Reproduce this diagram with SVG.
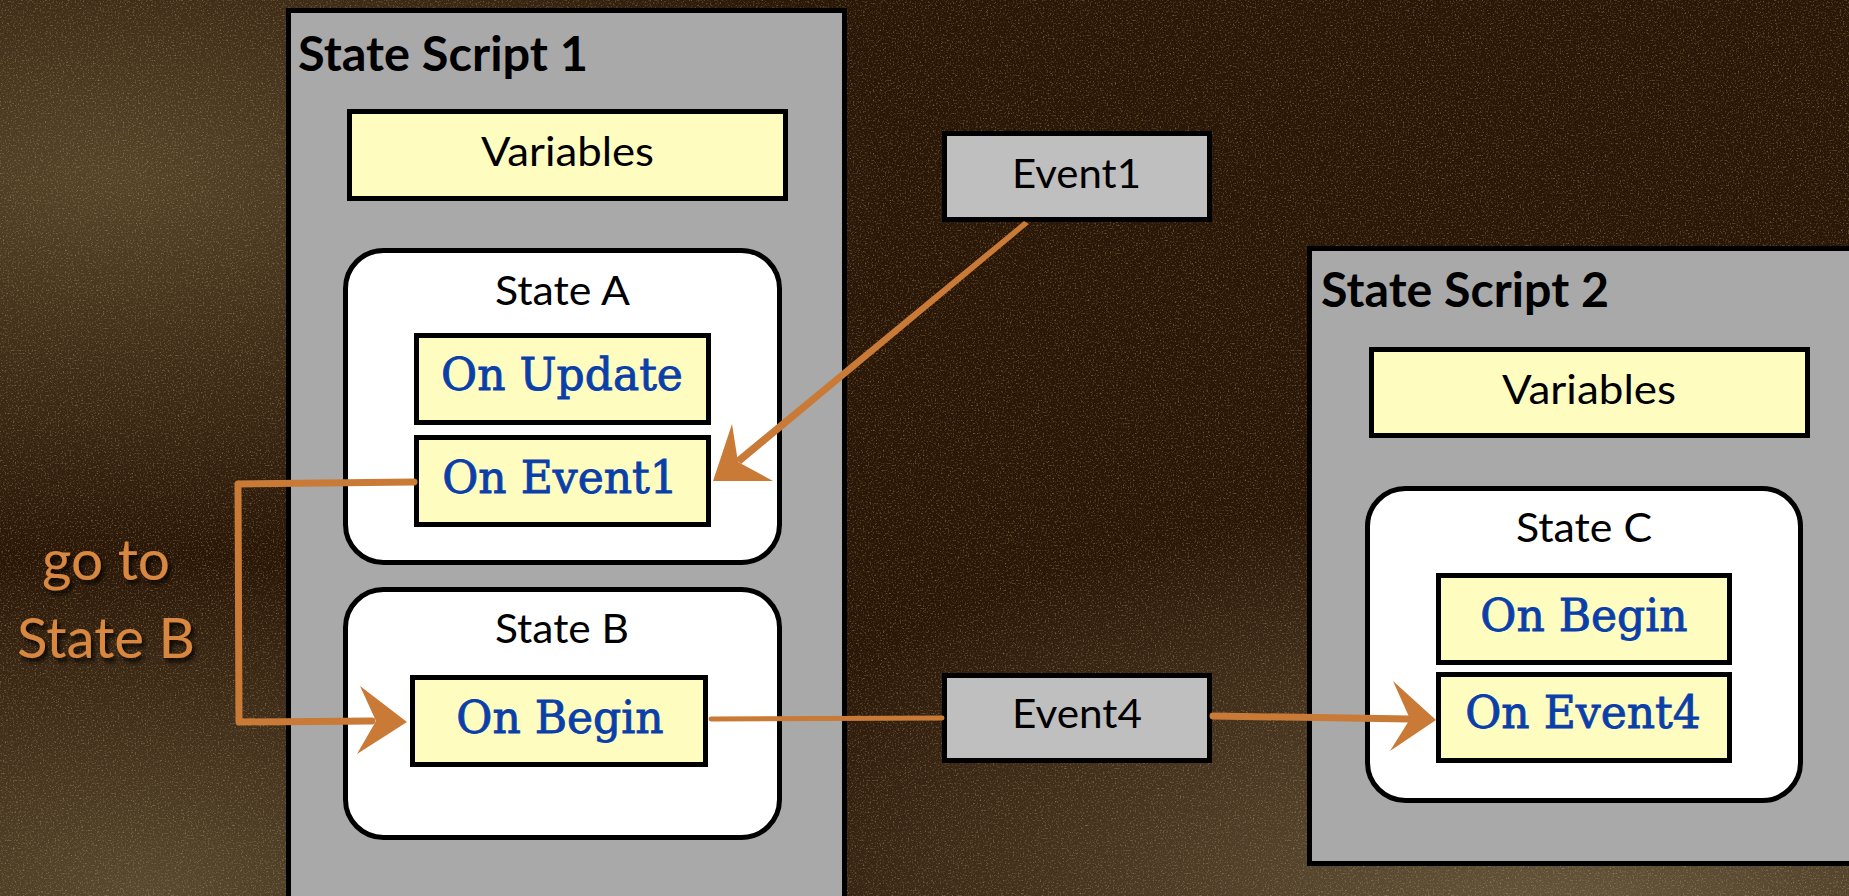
<svg xmlns="http://www.w3.org/2000/svg" width="1849" height="896" viewBox="0 0 1849 896">
<defs>
<style>
.script{fill:#A9A9A9;stroke:#000;stroke-width:5}
.vars{fill:#FFFCC0;stroke:#000;stroke-width:5}
.state{fill:#FFFFFF;stroke:#000;stroke-width:5}
.handler{fill:#FFFCC0;stroke:#000;stroke-width:5}
.event{fill:#BFBFBF;stroke:#000;stroke-width:5}
.title{font-family:Lato,"Liberation Sans",sans-serif;font-weight:bold;font-size:47px;fill:#000}
.lbl{font-family:Lato,"Liberation Sans",sans-serif;font-size:40px;fill:#000}
.code{font-family:"DejaVu Serif","Liberation Serif",serif;font-size:44px;fill:#0A3FAA;stroke:#0A3FAA;stroke-width:0.9;text-anchor:middle}
.note{font-family:Lato,"Liberation Sans",sans-serif;font-size:57px;fill:#D7873F}
.brush{fill:none;stroke:#C97A36;stroke-linecap:round;stroke-linejoin:round}
.head{fill:#C97A36}
</style>
<radialGradient id="bgA" cx="0.06" cy="0.2" r="0.42">
<stop offset="0" stop-color="#56442a"/>
<stop offset="1" stop-color="#56442a" stop-opacity="0"/>
</radialGradient>
<radialGradient id="bgB" cx="0.85" cy="1.05" r="0.5">
<stop offset="0" stop-color="#6a5a40"/>
<stop offset="1" stop-color="#6a5a40" stop-opacity="0"/>
</radialGradient>
<radialGradient id="bgC" cx="0.08" cy="1.0" r="0.38">
<stop offset="0" stop-color="#5a4a30"/>
<stop offset="1" stop-color="#5a4a30" stop-opacity="0"/>
</radialGradient>
<filter id="grain" x="0" y="0" width="100%" height="100%">
<feTurbulence type="fractalNoise" baseFrequency="0.6" numOctaves="3" seed="7" result="n"/>
<feColorMatrix in="n" type="matrix" values="0 0 0 0 0.6  0 0 0 0 0.52  0 0 0 0 0.2  0 0 0 2.6 -1.4" />
</filter>
<filter id="shadow" x="-10%" y="-10%" width="130%" height="140%">
<feDropShadow dx="3" dy="4" stdDeviation="2" flood-color="#000" flood-opacity="0.85"/>
</filter>
</defs>

<g id="background">
<rect x="0" y="0" width="1849" height="896" fill="#2b1708"/>
<rect x="0" y="0" width="1849" height="896" fill="url(#bgA)"/>
<rect x="0" y="0" width="1849" height="896" fill="url(#bgC)"/>
<rect x="0" y="0" width="1849" height="896" fill="url(#bgB)"/>
<rect x="0" y="0" width="1849" height="896" filter="url(#grain)" opacity="0.45"/>
</g>

<g id="state-script-1">
<rect class="script" x="288.5" y="10.5" width="556" height="900"/>
<text class="title" x="298" y="71" textLength="290" lengthAdjust="spacingAndGlyphs">State Script 1</text>
</g>
<g id="variables-1">
<rect class="vars" x="349.5" y="111.5" width="436" height="87"/>
<text class="lbl" x="481" y="166" textLength="173" lengthAdjust="spacingAndGlyphs">Variables</text>
</g>
<g id="state-a">
<rect class="state" x="345.5" y="250.5" width="434" height="312" rx="38" ry="38"/>
<text class="lbl" x="495" y="305" textLength="135" lengthAdjust="spacingAndGlyphs">State A</text>
</g>
<g id="on-update">
<rect class="handler" x="416.5" y="335.5" width="292" height="87"/>
<text class="code" x="562" y="390">On Update</text>
</g>
<g id="on-event1">
<rect class="handler" x="416.5" y="437.5" width="292" height="87"/>
<text class="code" x="560" y="493">On Event1</text>
</g>
<g id="state-b">
<rect class="state" x="345.5" y="589.5" width="434" height="248" rx="38" ry="38"/>
<text class="lbl" x="495" y="643" textLength="134" lengthAdjust="spacingAndGlyphs">State B</text>
</g>
<g id="on-begin-b">
<rect class="handler" x="412.5" y="677.5" width="293" height="87"/>
<text class="code" x="560" y="733">On Begin</text>
</g>

<g id="event1">
<rect class="event" x="944.5" y="133.5" width="265" height="86"/>
<text class="lbl" x="1012" y="188" textLength="129" lengthAdjust="spacingAndGlyphs">Event1</text>
</g>
<g id="event4">
<rect class="event" x="944.5" y="675.5" width="265" height="85"/>
<text class="lbl" x="1012" y="728" textLength="130" lengthAdjust="spacingAndGlyphs">Event4</text>
</g>

<g id="state-script-2">
<rect class="script" x="1309.5" y="248.5" width="600" height="615"/>
<text class="title" x="1321" y="307" textLength="288" lengthAdjust="spacingAndGlyphs">State Script 2</text>
</g>
<g id="variables-2">
<rect class="vars" x="1371.5" y="349.5" width="436" height="86"/>
<text class="lbl" x="1502" y="404" textLength="174" lengthAdjust="spacingAndGlyphs">Variables</text>
</g>
<g id="state-c">
<rect class="state" x="1367.5" y="488.5" width="433" height="312" rx="38" ry="38"/>
<text class="lbl" x="1516" y="542" textLength="136" lengthAdjust="spacingAndGlyphs">State C</text>
</g>
<g id="on-begin-c">
<rect class="handler" x="1438.5" y="575.5" width="291" height="87"/>
<text class="code" x="1584" y="631">On Begin</text>
</g>
<g id="on-event4">
<rect class="handler" x="1438.5" y="674.5" width="291" height="86"/>
<text class="code" x="1583" y="728">On Event4</text>
</g>

<g id="label-goto" filter="url(#shadow)">
<text class="note" x="42" y="580" textLength="128" lengthAdjust="spacingAndGlyphs">go to</text>
<text class="note" x="17" y="658" textLength="178" lengthAdjust="spacingAndGlyphs">State B</text>
</g>

<g id="connectors">
<!-- Event1 -> On Event1 -->
<polygon class="head" points="1029,224 1024,221 735,459 741,464"/>
<polygon class="head" points="713,481 732,424 738,462 773,481"/>
<!-- On Event1 -> On Begin (go to State B) -->
<path class="brush" d="M414,482 L238,484 L239,722 L372,721" stroke-width="7"/>
<polygon class="head" points="407,722 360,686 376,721 357,754"/>
<!-- On Begin -> Event4 -->
<path class="brush" d="M711,719 L942,718" stroke-width="5"/>
<!-- Event4 -> On Event4 -->
<path class="brush" d="M1213,716 L1410,719" stroke-width="7"/>
<polygon class="head" points="1436,720 1393,681 1410,719 1390,751"/>
</g>
</svg>
